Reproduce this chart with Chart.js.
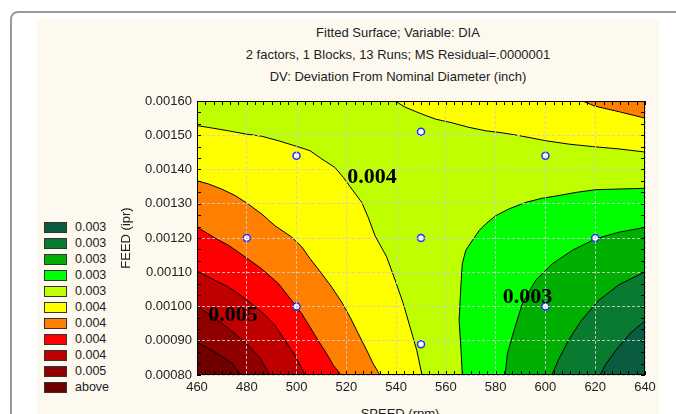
<!DOCTYPE html>
<html>
<head>
<meta charset="utf-8">
<script src="https://cdn.jsdelivr.net/npm/chart.js@4.4.1/dist/chart.umd.min.js"></script>
<style>
  html, body { margin: 0; padding: 0; background: #fff; width: 676px; height: 414px; overflow: hidden; font-family: Arial, "Liberation Sans", sans-serif; }
  #frame { position: absolute; left: 10px; top: 11px; width: 720px; height: 460px; border: 2px solid #9a9a9a; border-radius: 8px; box-sizing: border-box; }
  #panel { position: absolute; left: 37px; top: 19px; width: 622px; height: 400px; background: #fdf9ef; }
  #wrap { position: absolute; left: 0; top: 0; width: 676px; height: 414px; }
  .title { position: absolute; left: 198px; width: 400px; text-align: center; font-size: 13px; line-height: 16px; color: #222; white-space: nowrap; }
  #xtitle { position: absolute; left: 300px; width: 200px; top: 406px; text-align: center; font-size: 13px; line-height: 16px; color: #222; }
  #legend { position: absolute; left: 44px; top: 219px; }
  .item { height: 16px; display: flex; align-items: center; font-size: 12.5px; color: #222; }
  .box { width: 23px; height: 11px; border: 1px solid #333; box-sizing: border-box; margin-right: 8px; }
</style>
</head>
<body>
<div id="frame"></div>
<div id="panel"></div>
<div class="title" style="top:25px">Fitted Surface; Variable: DIA</div>
<div class="title" style="top:47px">2 factors, 1 Blocks, 13 Runs; MS Residual=.0000001</div>
<div class="title" style="top:69px">DV: Deviation From Nominal Diameter (inch)</div>
<div id="xtitle">SPEED (rpm)</div>
<div id="legend"></div>
<div id="wrap"><canvas id="chart" width="676" height="414"></canvas></div>
<script>
// legend, top to bottom
const legendLabels = ['0.003', '0.003', '0.003', '0.003', '0.003', '0.004', '0.004', '0.004', '0.004', '0.005', 'above'];
const legendColors = ['#0a5c40', '#0a7a30', '#00b000', '#00ff00', '#bfff00', '#ffff00', '#ff8000', '#ff0000', '#c00000', '#900000', '#700000'];

// design points (SPEED rpm, FEED ipr)
const designSpeed = [480, 500, 500, 550, 550, 550, 600, 600, 620];
const designFeed = [0.0012, 0.00144, 0.0010, 0.00151, 0.0012, 0.00089, 0.00144, 0.0010, 0.0012];

// contour boundaries, [speed, feed], closed at a plot corner
const yellowLeft = [[460, 0.001528], [464.5, 0.001523], [472.6, 0.001513], [479.3, 0.001504], [486, 0.001497], [492.7, 0.001484], [499.4, 0.001469], [505.4, 0.001455], [510.1, 0.001431], [515.4, 0.001406], [518.8, 0.001377], [522.2, 0.001343], [526.2, 0.001304], [528.8, 0.00126], [531.5, 0.001207], [536.2, 0.001145], [539.6, 0.001077], [542.9, 0.001008], [545.6, 0.00094], [548.3, 0.000872], [550.4, 0.0008], [460, 0.0008]];
const yellowRight = [[539.6, 0.0016], [543.6, 0.001582], [550.3, 0.001562], [555.9, 0.001547], [562.6, 0.001536], [569.3, 0.001523], [576, 0.001513], [582.7, 0.001507], [589.4, 0.001499], [600.1, 0.001484], [609.5, 0.001474], [618.8, 0.001467], [629.6, 0.00146], [640, 0.001451], [640, 0.0016]];
const orangeLeft = [[460, 0.001367], [464.5, 0.001358], [469.9, 0.001343], [475.3, 0.001324], [480.6, 0.001299], [486, 0.00127], [491.3, 0.001236], [498, 0.001203], [502.1, 0.001174], [505.4, 0.00114], [510.1, 0.001096], [514.1, 0.001057], [518.1, 0.001013], [521.5, 0.000969], [524.8, 0.000921], [528.2, 0.000872], [530.8, 0.000833], [533.5, 0.0008], [460, 0.0008]];
const orangeRight = [[614.9, 0.0016], [619.9, 0.001585], [630, 0.001568], [640, 0.00155], [640, 0.0016]];
const redLeft = [[460, 0.001232], [467.2, 0.0012], [472.6, 0.001179], [479.3, 0.001145], [486, 0.00111], [492.7, 0.001067], [498, 0.001018], [502.1, 0.000979], [505.4, 0.00094], [508.7, 0.000901], [512.1, 0.000862], [514.8, 0.000828], [517.9, 0.0008], [460, 0.0008]];
const darkRed1 = [[460, 0.001104], [465.9, 0.001081], [472.6, 0.001057], [479.3, 0.001023], [486, 0.000984], [491.3, 0.000945], [495.4, 0.000901], [499.4, 0.000857], [503.4, 0.0008], [460, 0.0008]];
const darkRed2 = [[460, 0.001001], [466, 0.000972], [472.5, 0.000937], [479.3, 0.000896], [485.3, 0.00085], [489.3, 0.0008], [460, 0.0008]];
const darkRed3 = [[460, 0.000896], [467.2, 0.000867], [474.5, 0.000832], [477.3, 0.0008], [460, 0.0008]];
const green1 = [[640, 0.001345], [629.6, 0.001343], [620.2, 0.001341], [612.2, 0.001333], [605.4, 0.001324], [598.7, 0.001316], [592.1, 0.001304], [585.4, 0.001285], [580, 0.001265], [576, 0.001241], [573.3, 0.001221], [571.3, 0.0012], [568, 0.001164], [566.6, 0.001125], [566, 0.001057], [565.3, 0.00096], [566, 0.000882], [566.6, 0.0008], [640, 0.0008]];
const green2 = [[640, 0.001231], [629.6, 0.001217], [620.2, 0.001198], [610.8, 0.001164], [602.8, 0.001125], [596.1, 0.001077], [590.7, 0.001008], [587.4, 0.000931], [584.7, 0.000862], [583.8, 0.0008], [640, 0.0008]];
const green3 = [[640, 0.001101], [629.6, 0.001064], [621.1, 0.001016], [614.3, 0.000958], [609.1, 0.000899], [605, 0.000841], [602.6, 0.0008], [640, 0.0008]];
const green4 = [[640, 0.000958], [634, 0.000921], [628.4, 0.000873], [624.3, 0.000832], [621.9, 0.0008], [640, 0.0008]];

// contour value labels
const contourText = ['0.004', '0.003', '0.005'];
const contourSpeed = [530.3, 592.8, 474.5];
const contourFeed = [0.001378, 0.001028, 0.000975];

const backgroundLevel = '#bfff00';
const regions = [
  [yellowLeft, '#ffff00'], [yellowRight, '#ffff00'],
  [orangeLeft, '#ff8000'], [orangeRight, '#ff8000'],
  [redLeft, '#ff0000'], [darkRed1, '#c00000'], [darkRed2, '#900000'], [darkRed3, '#700000'],
  [green1, '#00ff00'], [green2, '#00b000'], [green3, '#0a7a30'], [green4, '#0a5c40'],
];

document.getElementById('legend').innerHTML = legendLabels.map((label, i) =>
  `<div class="item"><div class="box" style="background:${legendColors[i]}"></div>${label}</div>`).join('');

const plotBackground = {
  id: 'plotBackground',
  beforeDatasetsDraw(chart) {
    const { ctx, chartArea: a } = chart;
    ctx.save();
    ctx.fillStyle = backgroundLevel;
    ctx.fillRect(a.left, a.top, a.right - a.left, a.bottom - a.top);
    ctx.restore();
  },
};

const frameAndLabels = {
  id: 'frameAndLabels',
  afterDraw(chart) {
    const { ctx, chartArea: a } = chart;
    const xs = chart.scales.x;
    const ys = chart.scales.y;
    ctx.save();
    ctx.strokeStyle = '#000';
    ctx.lineWidth = 1;
    ctx.strokeRect(a.left + 0.5, a.top + 0.5, a.right - a.left - 1, a.bottom - a.top - 1);
    ctx.beginPath();
    for (let s = 460; s <= 640.01; s += 20 / 6) {
      const px = Math.round(xs.getPixelForValue(s)) + 0.5;
      ctx.moveTo(px, a.top); ctx.lineTo(px, a.top + 4);
      ctx.moveTo(px, a.bottom); ctx.lineTo(px, a.bottom - 4);
    }
    for (let f = 0.0008; f <= 0.0016001; f += 0.0001 / 3) {
      const py = Math.round(ys.getPixelForValue(f)) + 0.5;
      ctx.moveTo(a.left, py); ctx.lineTo(a.left + 4, py);
      ctx.moveTo(a.right, py); ctx.lineTo(a.right - 4, py);
    }
    ctx.stroke();
    ctx.fillStyle = '#000';
    ctx.font = 'bold 22px "Liberation Serif", "Times New Roman", serif';
    ctx.textAlign = 'center';
    ctx.textBaseline = 'middle';
    contourText.forEach((t, i) => {
      ctx.fillText(t, xs.getPixelForValue(contourSpeed[i]), ys.getPixelForValue(contourFeed[i]));
    });
    ctx.restore();
  },
};

const regionSets = regions.map(([pts, color], i) => ({
  type: 'line',
  data: pts.map(([x, y]) => ({ x, y })),
  backgroundColor: color,
  borderColor: '#000',
  borderWidth: 1,
  pointRadius: 0,
  tension: 0,
  fill: 'shape',
  order: 100 - i,
}));

const pointsSet = {
  type: 'scatter',
  data: designSpeed.map((x, i) => ({ x, y: designFeed[i] })),
  pointRadius: 3.5,
  pointBackgroundColor: '#fff',
  pointBorderColor: '#2a2aff',
  pointBorderWidth: 1.5,
  showLine: false,
  order: 0,
};

const tickFont = { family: 'Arial, "Liberation Sans", sans-serif', size: 13 };
const gridColor = 'rgba(205,205,205,0.9)';

new Chart(document.getElementById('chart'), {
  type: 'line',
  data: { datasets: [...regionSets, pointsSet] },
  plugins: [plotBackground, frameAndLabels],
  options: {
    responsive: false,
    animation: false,
    events: [],
    layout: { padding: { left: 119, right: 31, top: 101, bottom: 0 } },
    plugins: { legend: { display: false }, tooltip: { enabled: false }, title: { display: false } },
    scales: {
      x: {
        type: 'linear', min: 460, max: 640,
        afterFit: (s) => { s.height = 39; },
        ticks: { stepSize: 20, color: '#222', font: tickFont, padding: 5, maxRotation: 0 },
        grid: { color: gridColor, drawTicks: false, z: 1 },
        border: { display: false, dash: [3, 2] },
      },
      y: {
        type: 'linear', min: 0.0008, max: 0.0016,
        afterFit: (s) => { s.width = 78; },
        ticks: { stepSize: 0.0001, color: '#222', font: tickFont, padding: 5, callback: (v) => Number(v).toFixed(5) },
        grid: { color: gridColor, drawTicks: false, z: 1 },
        border: { display: false, dash: [3, 2] },
        title: { display: true, text: 'FEED (ipr)', color: '#222', font: tickFont, padding: { top: 0, bottom: 0 } },
      },
    },
  },
});
</script>
</body>
</html>
